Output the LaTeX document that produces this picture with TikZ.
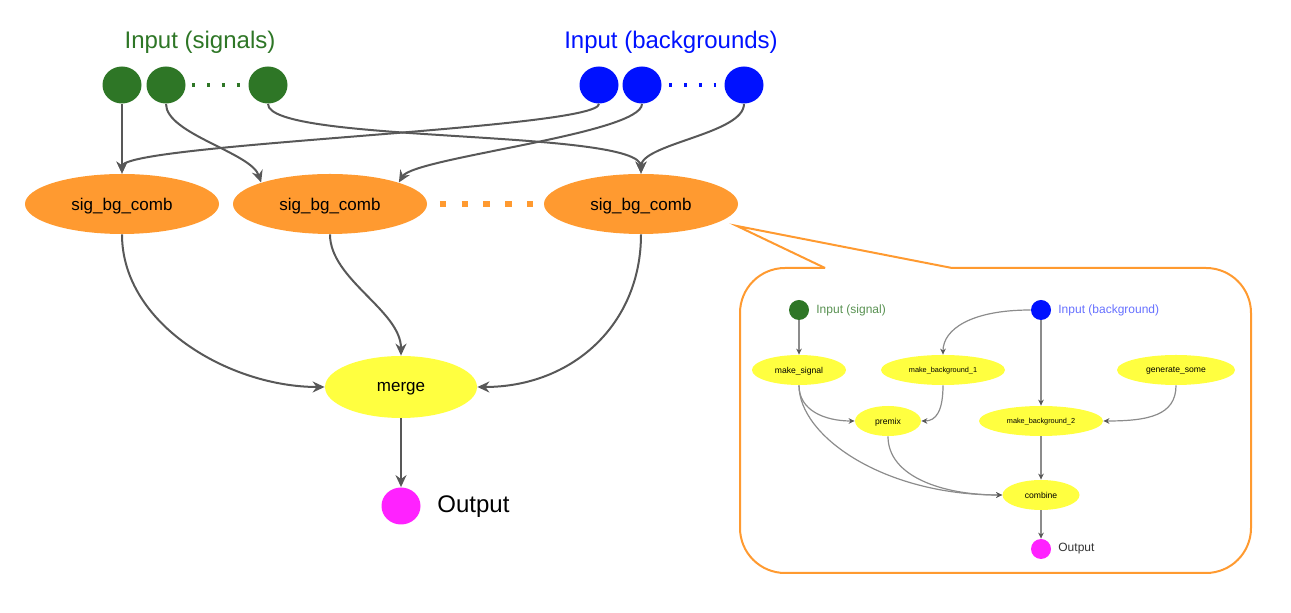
\documentclass[tikz,border=0pt]{standalone}
\usepackage{fontspec}
\setmainfont{Liberation Sans}
\usetikzlibrary{shapes.geometric, arrows.meta}

\definecolor{siggreen}{RGB}{46,118,38}
\definecolor{bgblue}{RGB}{0,17,255}
\definecolor{combor}{RGB}{255,154,48}
\definecolor{stepyel}{RGB}{255,255,64}
\definecolor{outmag}{RGB}{255,34,255}
\definecolor{flowgray}{RGB}{88,88,88}
\definecolor{thingray}{RGB}{140,140,140}

\begin{document}
\begin{tikzpicture}[x=0.5pt, y=-0.5pt,
    bead/.style={ellipse, inner sep=0pt, minimum width=19.5pt, minimum height=18.5pt},
    comb/.style={ellipse, inner sep=0pt, fill=combor, text depth=0pt, minimum width=97pt, minimum height=30pt, font=\fontsize{8.5}{10}\selectfont},
    lbl/.style={inner sep=0pt, font=\fontsize{12}{14}\selectfont},
    flow/.style={draw=flowgray, line width=1pt, -{Stealth[length=6pt, width=5.5pt, inset=2pt]}},
    small/.style={ellipse, inner sep=0pt, fill=stepyel, text depth=0pt, minimum height=15pt, font=\fontsize{4.3}{5}\selectfont},
    sbead/.style={circle, inner sep=0pt, minimum size=10pt},
    slbl/.style={inner sep=0pt, anchor=west, font=\fontsize{6}{7}\selectfont},
    sflow/.style={draw=thingray, line width=0.6pt, -{Stealth[length=3pt, width=2.8pt, inset=1pt, color=flowgray]}},
    callout/.style={draw=combor, line width=1pt}]
\useasboundingbox (0,0) rectangle (1291,613);

% inputs
\node[lbl, text=siggreen] (siglbl) at (200,42) {Input (signals)};
\node[lbl, text=bgblue] (bglbl) at (671,42) {Input (backgrounds)};
\node[bead, fill=siggreen] (g1) at (122,85) {};
\node[bead, fill=siggreen] (g2) at (166,85) {};
\node[bead, fill=siggreen] (g3) at (268,85) {};
\node[bead, fill=bgblue] (b1) at (599,85) {};
\node[bead, fill=bgblue] (b2) at (642,85) {};
\node[bead, fill=bgblue] (b3) at (744,85) {};
\draw[siggreen, line width=2pt, dash pattern=on 1.5pt off 5.85pt, shorten <=3.25pt, shorten >=4.3pt] (g2) -- (g3);
\draw[bgblue, line width=2pt, dash pattern=on 1.5pt off 5.85pt, shorten <=3.75pt, shorten >=4pt] (b2) -- (b3);

% combinations
\node[comb] (sbc1) at (122,204) {sig\_bg\_comb};
\node[comb] (sbc2) at (330,204) {sig\_bg\_comb};
\node[comb] (sbc3) at (641,204) {sig\_bg\_comb};
\draw[combor, line width=3.3pt, dash pattern=on 3.3pt off 7.6pt, shorten <=6.2pt, shorten >=5.3pt] (sbc2) -- (sbc3);

\node[comb, fill=stepyel, minimum width=76pt, minimum height=31pt] (merge) at (401,387) {merge};
\node[bead, fill=outmag] (out) at (401,506) {};
\node[lbl, anchor=west] (outlbl) at (437,507) {Output};

\draw[flow] (g1) -- (sbc1.north);
\draw[flow] (g2.south) .. controls +(0,30) and +(-10,-30) .. (sbc2.north west);
\draw[flow] (g3.south) .. controls +(0,40) and +(0,-45) .. (sbc3.north);
\draw[flow] (b1.south) .. controls +(0,25) and +(0,-30) .. (sbc1.north);
\draw[flow] (b2.south) .. controls +(0,30) and +(15,-25) .. (sbc2.north east);
\draw[flow] (b3.south) .. controls +(0,30) and +(0,-30) .. (sbc3.north);
\draw[flow] (sbc1.south) .. controls +(0,90) and +(-95,0) .. (merge.west);
\draw[flow] (sbc2.south) .. controls +(0,45) and +(0,-45) .. (merge.north);
\draw[flow] (sbc3.south) .. controls +(0,90) and +(95,0) .. (merge.east);
\draw[flow] (merge) -- (out);

% callout
\coordinate (tip) at (737,226);
\draw[callout, rounded corners=22.5pt] (952,268) -- (1251,268) -- (1251,573) -- (740,573) -- (740,268) -- (825,268);
\draw[callout] (825,268) -- (tip) -- (952,268);

% inset graph
\node[sbead, fill=siggreen] (isig) at (799,310) {};
\node[slbl, text=siggreen!80!white] (isiglbl) at (816,310) {Input (signal)};
\node[sbead, fill=bgblue] (ibg) at (1041,310) {};
\node[slbl, text=bgblue!60!white] (ibglbl) at (1058,310) {Input (background)};
\node[small, minimum width=47pt] (ms) at (799,370) {make\_signal};
\node[small, minimum width=62pt, font=\fontsize{3.65}{4}\selectfont] (mb1) at (943,370) {make\_background\_1};
\node[small, minimum width=59pt] (gs) at (1176,370) {generate\_some};
\node[small, minimum width=33pt] (premix) at (888,421) {premix};
\node[small, minimum width=62pt, font=\fontsize{3.65}{4}\selectfont] (mb2) at (1041,421) {make\_background\_2};
\node[small, minimum width=38.5pt] (combine) at (1041,495) {combine};
\node[sbead, fill=outmag] (iout) at (1041,549) {};
\node[slbl, text=black!80] (ioutlbl) at (1058,549) {Output};

\draw[sflow] (isig) -- (ms);
\draw[sflow] (ibg.west) .. controls +(-60,0) and +(0,-25) .. (mb1.north);
\draw[sflow] (ibg) -- (mb2);
\draw[sflow] (ms.south) .. controls +(0,25) and +(-30,0) .. (premix.west);
\draw[sflow] (mb1.south) .. controls +(0,25) and +(15,0) .. (premix.east);
\draw[sflow] (gs.south) .. controls +(0,30) and +(45,0) .. (mb2.east);
\draw[sflow] (ms.south) .. controls +(0,50) and +(-120,0) .. (combine.west);
\draw[sflow] (premix.south) .. controls +(0,40) and +(-60,0) .. (combine.west);
\draw[sflow] (mb2) -- (combine);
\draw[sflow] (combine) -- (iout);
\end{tikzpicture}
\end{document}
